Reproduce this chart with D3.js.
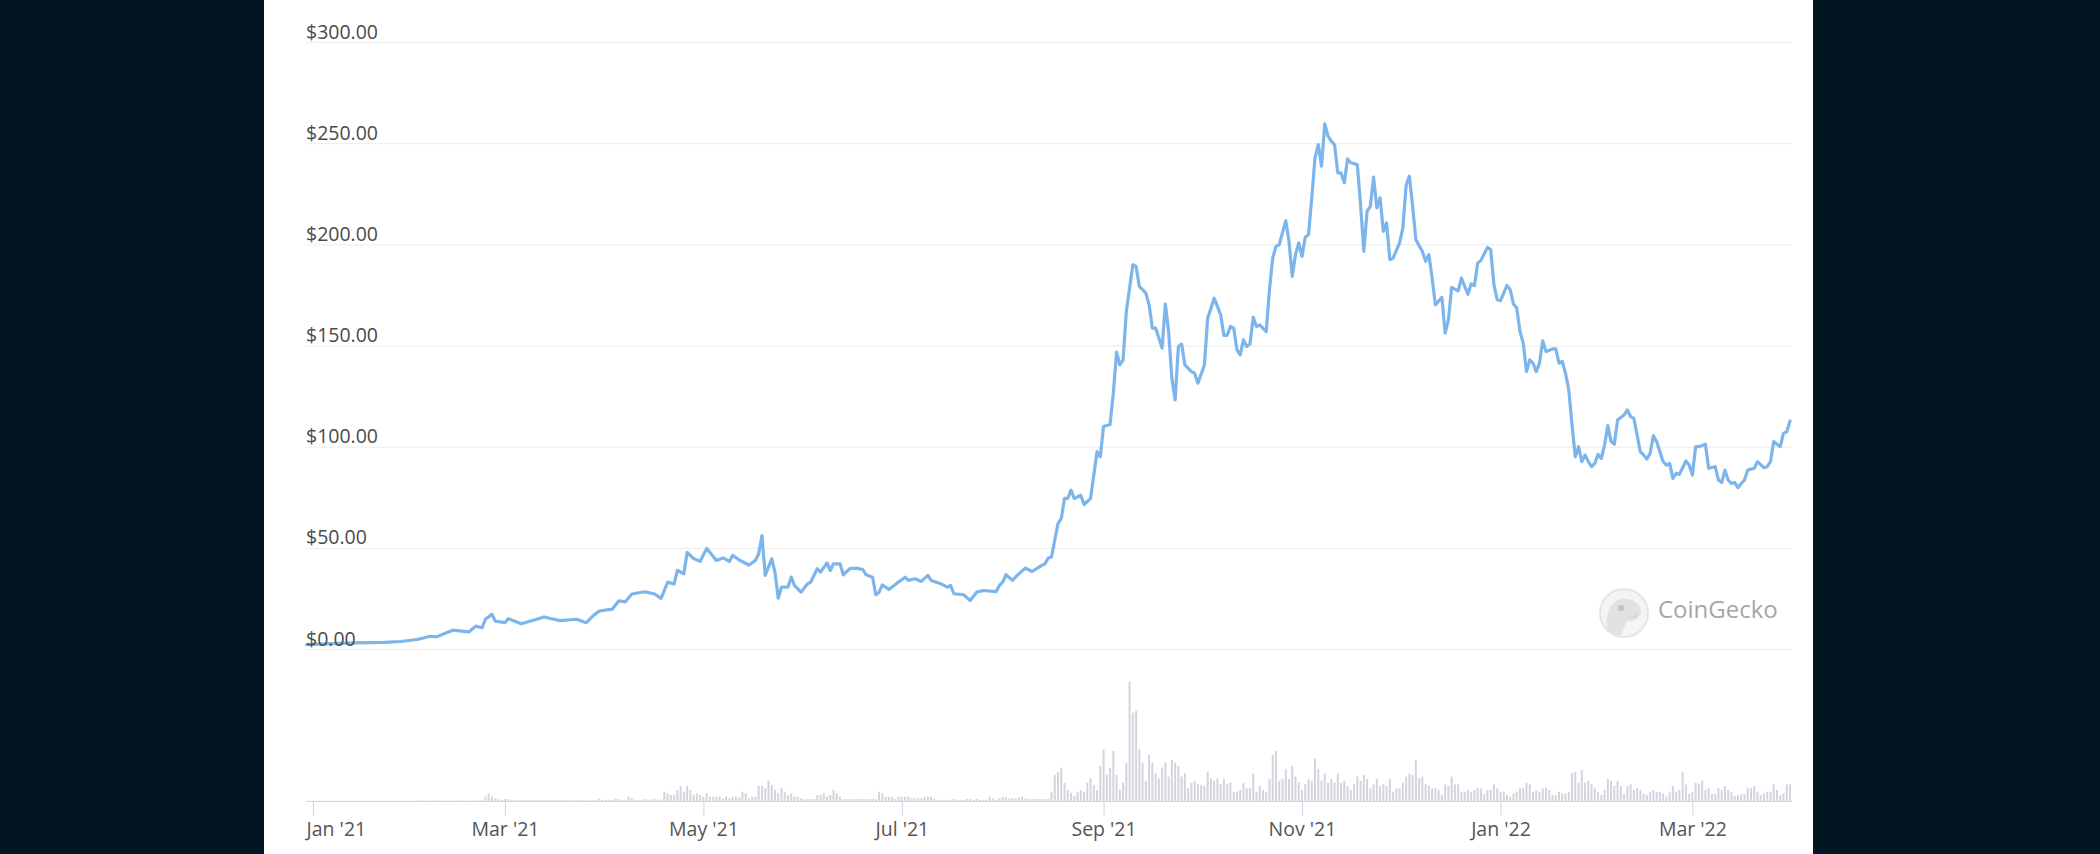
<!DOCTYPE html>
<html lang="en">
<head>
    <meta charset="utf-8">
    <title>SOL price chart</title>
    <script src="https://cdn.jsdelivr.net/npm/d3@7/dist/d3.min.js"></script>
    <style type="text/css">
        body
        {
            margin: 0;
            background-color: #021520;
        }
        svg
        {
            display: block;
            font-family: "Open Sans", "Noto Sans", sans-serif;
        }
    </style>
</head>
<body>
    <div id="chart_div"></div>
    <script>
    "use strict";

    // price: [days since 1 Jan 2021, USD]
    var priceHistory = [
        [-2,2.2],[6,2.7],[13,3.0],[22,3.3],[27,3.7],[32,4.7],[36,6.3],[38,6.0],[41,8.0],[43,9.3],
        [45,9.0],[48,8.5],[50,11.3],[52,10.5],[53,14.7],[55,17.2],[56,13.8],[59,13.0],[60,15.0],[64,12.5],
        [68,14.3],[71,15.8],[74,14.7],[76,14.0],[81,14.7],[84,13.0],[86,16.3],[88,18.8],[92,19.7],[94,23.8],
        [96,23.3],[98,27.2],[102,28.3],[105,27.2],[107,25.0],[109,33.0],[111,32.2],[112,38.8],[114,37.2],[115,47.7],
        [117,44.7],[119,43.3],[121,49.7],[124,43.8],[126,45.0],[128,43.3],[129,46.3],[131,44.0],[134,41.5],[136,43.8],
        [137,47.1],[138,56.0],[139,36.4],[141,44.6],[142,38.0],[143,25.1],[144,30.6],[146,30.6],[147,35.5],[148,31.4],
        [150,28.1],[152,32.2],[153,33.1],[155,39.7],[156,38.0],[158,42.5],[159,38.8],[160,42.1],[162,42.1],[163,36.7],
        [165,39.7],[167,40.0],[169,39.3],[170,36.7],[172,35.5],[173,26.8],[174,28.1],[175,31.7],[177,29.4],[180,33.1],
        [182,35.5],[183,33.9],[185,34.7],[187,33.4],[189,36.4],[190,33.9],[193,32.2],[195,30.6],[196,31.4],[197,27.3],
        [200,26.8],[202,24.0],[204,28.1],[206,28.9],[210,28.4],[211,31.4],[212,33.1],[213,36.7],[215,33.9],[217,37.2],
        [219,40.0],[221,38.3],[224,41.3],[225,42.1],[226,45.0],[227,45.5],[229,62.0],[230,64.5],[231,74.4],[232,74.4],
        [233,78.5],[234,74.4],[236,76.0],[237,71.4],[239,74.4],[241,97.5],[242,95.0],[243,110.0],[245,111.0],[246,126.4],
        [247,146.7],[248,140.4],[249,142.9],[250,166.8],[252,189.9],[253,189.1],[254,179.2],[256,175.9],[257,170.1],[258,158.6],
        [259,158.6],[261,148.7],[262,170.5],[263,156.9],[264,133.8],[265,123.1],[266,149.5],[267,150.7],[268,140.4],[270,137.1],
        [271,136.3],[272,131.4],[274,140.4],[275,163.5],[277,173.4],[279,165.2],[280,155.0],[281,155.0],[282,159.4],[283,158.6],
        [284,147.9],[285,145.4],[286,152.8],[287,149.5],[288,150.7],[289,163.9],[290,159.4],[291,160.2],[293,156.9],[294,177.6],
        [295,193.2],[296,199.0],[297,199.8],[299,211.7],[300,201.5],[301,184.2],[302,194.9],[303,200.7],[304,194.0],[305,203.5],
        [306,204.8],[307,223.0],[308,242.7],[309,249.3],[310,238.6],[311,259.5],[312,253.5],[313,251.0],[314,249.3],[315,235.3],
        [316,235.3],[317,230.4],[318,242.2],[319,240.3],[321,239.4],[322,219.6],[323,196.5],[324,216.3],[325,218.8],[326,233.2],
        [327,218.0],[328,223.0],[329,206.4],[330,210.6],[331,192.4],[332,193.2],[334,200.7],[335,208.1],[336,229.2],[337,233.7],
        [338,218.8],[339,202.3],[341,196.5],[342,191.6],[343,194.9],[344,183.3],[345,170.1],[347,173.8],[348,156.1],[349,162.5],
        [350,178.7],[352,177.0],[353,183.3],[355,175.3],[356,180.5],[357,179.6],[358,190.8],[359,192.0],[361,198.5],[362,197.4],
        [363,180.0],[364,172.6],[365,172.1],[367,179.7],[368,177.6],[369,170.5],[370,168.5],[371,156.9],[372,151.2],[373,137.1],
        [374,142.9],[375,141.3],[376,137.1],[377,141.3],[378,152.3],[379,147.0],[381,148.3],[382,148.3],[383,141.3],[384,142.1],
        [385,136.3],[386,128.1],[387,110.7],[388,95.0],[389,100.0],[390,92.6],[391,95.9],[392,92.6],[393,90.1],[394,91.7],
        [395,96.2],[396,94.2],[397,100.8],[398,110.4],[399,102.5],[400,101.2],[401,113.2],[403,115.7],[404,118.2],[405,114.9],
        [406,114.0],[408,97.5],[409,95.9],[410,93.9],[411,96.7],[412,105.4],[413,102.5],[415,92.6],[416,90.9],[417,91.7],
        [418,84.3],[419,86.8],[420,86.3],[422,92.9],[423,90.9],[424,86.0],[425,100.0],[426,100.0],[428,101.2],[429,89.3],
        [431,90.1],[432,83.5],[433,82.3],[434,88.4],[435,83.5],[436,81.8],[437,82.3],[438,79.7],[439,81.8],[440,83.5],
        [441,88.4],[443,89.3],[444,92.6],[446,89.6],[447,90.1],[448,92.6],[449,102.5],[451,100.0],[452,106.6],[453,107.4],
        [454,112.7]
    ];

    // daily volume, USD billions, first bar = 30 Dec 2020
    var volumeStartDay = -2;
    var volumeBillions = [
        0.02,0.02,0.02,0.02,0.02,0.02,0.02,0.02,0.02,0.02,0.02,0.02,0.02,0.02,0.02,0.02,0.02,
        0.02,0.02,0.02,0.02,0.02,0.02,0.02,0.02,0.02,0.02,0.02,0.02,0.02,0.02,0.02,0.02,
        0.04,0.04,0.04,0.04,0.04,0.04,0.04,0.04,0.04,0.04,0.04,0.04,0.04,0.04,0.04,0.04,0.04,0.04,0.04,0.04,0.04,0.04,
        0.31,0.55,0.31,0.19,0.12,0.08,0.14,0.14,
        0.06,0.06,0.06,0.06,0.06,0.06,0.06,0.06,0.06,0.06,0.06,0.06,0.06,0.06,
        0.06,0.06,0.06,0.06,0.06,0.06,0.06,0.06,0.06,0.06,0.06,0.06,0.06,
        0.19,0.08,0.08,0.08,0.08,
        0.14,0.14,0.08,0.08,0.31,0.19,0.08,0.08,0.08,0.14,0.10,0.10,0.14,0.10,0.10,
        0.66,0.55,0.43,0.43,0.79,1.07,0.66,1.07,0.79,0.43,
        0.55,0.43,0.31,0.55,0.31,0.31,0.31,0.31,0.19,0.31,
        0.19,0.31,0.31,0.26,0.66,0.55,0.19,0.31,0.31,1.07,
        1.07,0.91,1.45,1.14,0.79,0.55,0.91,0.66,0.43,0.55,
        0.31,0.31,0.19,0.14,0.14,0.14,0.14,0.43,0.43,0.55,
        0.31,0.43,0.79,0.55,0.31,
        0.14,0.14,0.14,0.14,0.14,0.14,0.14,0.14,0.14,0.14,0.14,
        0.66,0.55,0.31,0.31,0.31,0.14,0.31,0.31,0.31,0.31,0.19,0.19,0.19,0.19,0.31,0.31,0.31,0.14,
        0.08,0.08,0.08,0.08,0.08,0.14,0.08,0.08,0.08,
        0.14,0.14,0.08,0.14,0.08,0.08,0.08,
        0.31,0.19,0.08,0.19,0.31,0.26,0.19,0.19,0.19,0.26,0.31,0.19,
        0.14,0.14,0.14,0.14,0.14,0.14,0.14,
        0.66,1.86,2.09,2.38,1.31,0.79,0.59,0.36,0.66,0.79,
        0.66,1.31,1.62,1.14,0.79,2.50,3.69,1.86,2.38,3.57,
        1.86,0.79,1.31,2.74,8.52,6.31,6.45,3.69,2.74,1.45,
        3.29,2.74,1.98,1.62,2.38,2.74,1.74,2.93,2.74,2.50,
        1.74,1.98,0.91,1.31,1.45,1.21,1.14,1.07,2.09,1.62,
        1.45,1.62,1.19,1.57,1.19,1.31,0.66,0.66,0.79,1.31,
        0.91,0.91,1.98,0.66,1.07,0.79,0.66,1.57,3.29,3.57,
        1.45,1.57,2.26,1.57,2.50,1.74,1.31,0.79,1.19,1.57,
        1.45,3.02,2.26,1.45,1.98,1.31,1.57,1.31,1.98,1.31,
        1.45,1.07,0.79,1.19,1.74,1.45,1.86,1.57,0.91,1.19,
        1.57,1.07,1.19,1.07,1.57,0.66,0.91,0.91,1.31,1.74,
        1.98,1.86,2.93,1.62,1.74,1.19,1.07,0.91,0.91,0.79,
        0.43,1.19,1.07,1.74,1.19,1.19,0.66,0.66,0.79,0.66,
        0.79,0.91,0.91,0.50,0.79,0.79,1.19,0.91,0.66,0.66,
        0.43,0.31,0.55,0.66,0.91,0.91,1.31,1.19,0.66,0.79,
        0.66,0.91,0.91,0.79,0.43,0.43,0.66,0.55,0.55,0.66,
        1.98,2.09,1.31,2.21,1.31,1.45,1.19,0.91,0.66,0.43,
        0.79,1.57,1.45,1.07,1.45,1.07,0.50,1.07,1.19,0.79,
        0.91,0.79,0.50,0.43,0.66,0.79,0.66,0.66,0.55,0.31,
        0.66,1.07,0.66,0.79,2.09,1.19,0.50,0.66,1.31,1.19,
        1.45,0.79,0.91,0.50,0.50,0.91,0.79,1.07,0.79,0.66,
        0.36,0.43,0.50,0.50,0.91,0.91,1.07,0.66,0.43,0.55,
        0.66,0.66,1.19,0.79,0.43,0.55,1.19,1.19
    ];

    var priceTicks = [0, 50, 100, 150, 200, 250, 300];

    var svg_width = 2100;
    var svg_height = 854;
    var panel = {left: 264, right: 1813};
    var plot = {left: 306, right: 1792, top: 42, priceBottom: 649, volTop: 661, axisY: 801};

    var day0 = Date.UTC(2021, 0, 1);
    function dayToDate(d)
    {
        return new Date(day0 + d * 86400000);
    }

    var priceData = priceHistory.map(function(p)
    {
        return {date: dayToDate(p[0]), value: p[1]};
    });
    var volumeData = volumeBillions.map(function(v, i)
    {
        return {date: dayToDate(volumeStartDay + i), value: v};
    });

    var svg = d3.select("#chart_div")
        .append("svg")
        .attr("width", svg_width)
        .attr("height", svg_height);

    svg.append("rect")
        .attr("x", 0).attr("y", 0)
        .attr("width", svg_width).attr("height", svg_height)
        .attr("fill", "#021520");
    svg.append("rect")
        .attr("x", panel.left).attr("y", 0)
        .attr("width", panel.right - panel.left).attr("height", svg_height)
        .attr("fill", "#ffffff");

    var xscale = d3.scaleUtc()
        .domain([dayToDate(-2), dayToDate(454)])
        .range([plot.left + 0.5, plot.right - 2]);
    var yscale = d3.scaleLinear()
        .domain([0, 300])
        .range([plot.priceBottom, plot.top]);
    var vscale = d3.scaleLinear()
        .domain([0, 10])
        .range([plot.axisY, plot.volTop]);

    // horizontal grid
    var grid = svg.append("g")
        .attr("transform", "translate(" + plot.left + ",0)")
        .call(d3.axisRight(yscale).tickValues(priceTicks).tickSize(plot.right - plot.left).tickFormat(""));
    grid.select(".domain").remove();
    grid.selectAll("line").attr("stroke", "#ececec").attr("stroke-width", 1);

    // volume bars
    svg.append("g")
        .selectAll("rect")
        .data(volumeData)
        .enter()
        .append("rect")
        .attr("x", function(d) { return xscale(d.date) - 1; })
        .attr("width", 2)
        .attr("y", function(d) { return vscale(d.value); })
        .attr("height", function(d) { return plot.axisY - vscale(d.value); })
        .attr("fill", "#d3d4de");

    // x axis
    var xaxis = d3.axisBottom(xscale)
        .ticks(d3.utcMonth.every(2))
        .tickFormat(d3.utcFormat("%b '%y"))
        .tickSizeOuter(0)
        .tickSize(15);
    var xg = svg.append("g")
        .attr("transform", "translate(0," + plot.axisY + ")")
        .call(xaxis);
    xg.select(".domain")
        .attr("d", "M" + plot.left + ",0.5H" + plot.right)
        .attr("stroke", "#ccd6eb");
    xg.selectAll(".tick line").attr("stroke", "#ccd6eb");
    xg.selectAll(".tick text")
        .attr("y", 35)
        .attr("dy", 0)
        .attr("fill", "#555555")
        .style("font-size", "19.5px")
        .style("font-family", "'Open Sans', 'Noto Sans', sans-serif");
    // first label is kept inside the plot, like the original
    xg.selectAll(".tick text")
        .filter(function(d, i) { return i === 0; })
        .attr("text-anchor", "start")
        .attr("x", function(d) { return plot.left - xscale(d); });

    // watermark
    var wm = svg.append("g").attr("transform", "translate(1624,613)");
    wm.append("circle")
        .attr("r", 24)
        .attr("fill", "#f4f4f4")
        .attr("stroke", "#e4e4e4")
        .attr("stroke-width", 2);
    wm.append("path")
        .attr("d", "M-17,16 C-19,0 -13,-13 -1,-14 C9,-15 17,-9 17,-2 C17,5 11,8 3,8 C0,13 -1,18 -2,22 C-8,22 -13,20 -17,16 Z")
        .attr("fill", "#e2e2e2");
    wm.append("circle")
        .attr("cx", -3).attr("cy", -5).attr("r", 3.2)
        .attr("fill", "#c4c4c4");
    wm.append("path")
        .attr("d", "M5,4 Q10,5 14,2")
        .attr("fill", "none")
        .attr("stroke", "#cfcfcf")
        .attr("stroke-width", 1.2);
    svg.append("text")
        .attr("x", 1658)
        .attr("y", 618)
        .attr("fill", "#a6a6a6")
        .style("font-size", "24px")
        .text("CoinGecko");

    // price line
    var line = d3.line()
        .x(function(d) { return xscale(d.date); })
        .y(function(d) { return yscale(d.value); });
    svg.append("path")
        .datum(priceData)
        .attr("d", line)
        .attr("fill", "none")
        .attr("stroke", "#7cb5ec")
        .attr("stroke-width", 3.2)
        .attr("stroke-linejoin", "round")
        .attr("stroke-linecap", "round");

    // y labels drawn above the line
    var ylab = svg.append("g")
        .attr("transform", "translate(" + plot.left + ",0)")
        .call(d3.axisRight(yscale).tickValues(priceTicks).tickSize(0).tickFormat(d3.format("$.2f")));
    ylab.select(".domain").remove();
    ylab.selectAll("text")
        .attr("x", 0)
        .attr("y", -4)
        .attr("dy", 0)
        .attr("text-anchor", "start")
        .attr("fill", "#4a4a4a")
        .style("font-size", "19.5px")
        .style("font-family", "'Open Sans', 'Noto Sans', sans-serif");
    </script>
</body>
</html>
